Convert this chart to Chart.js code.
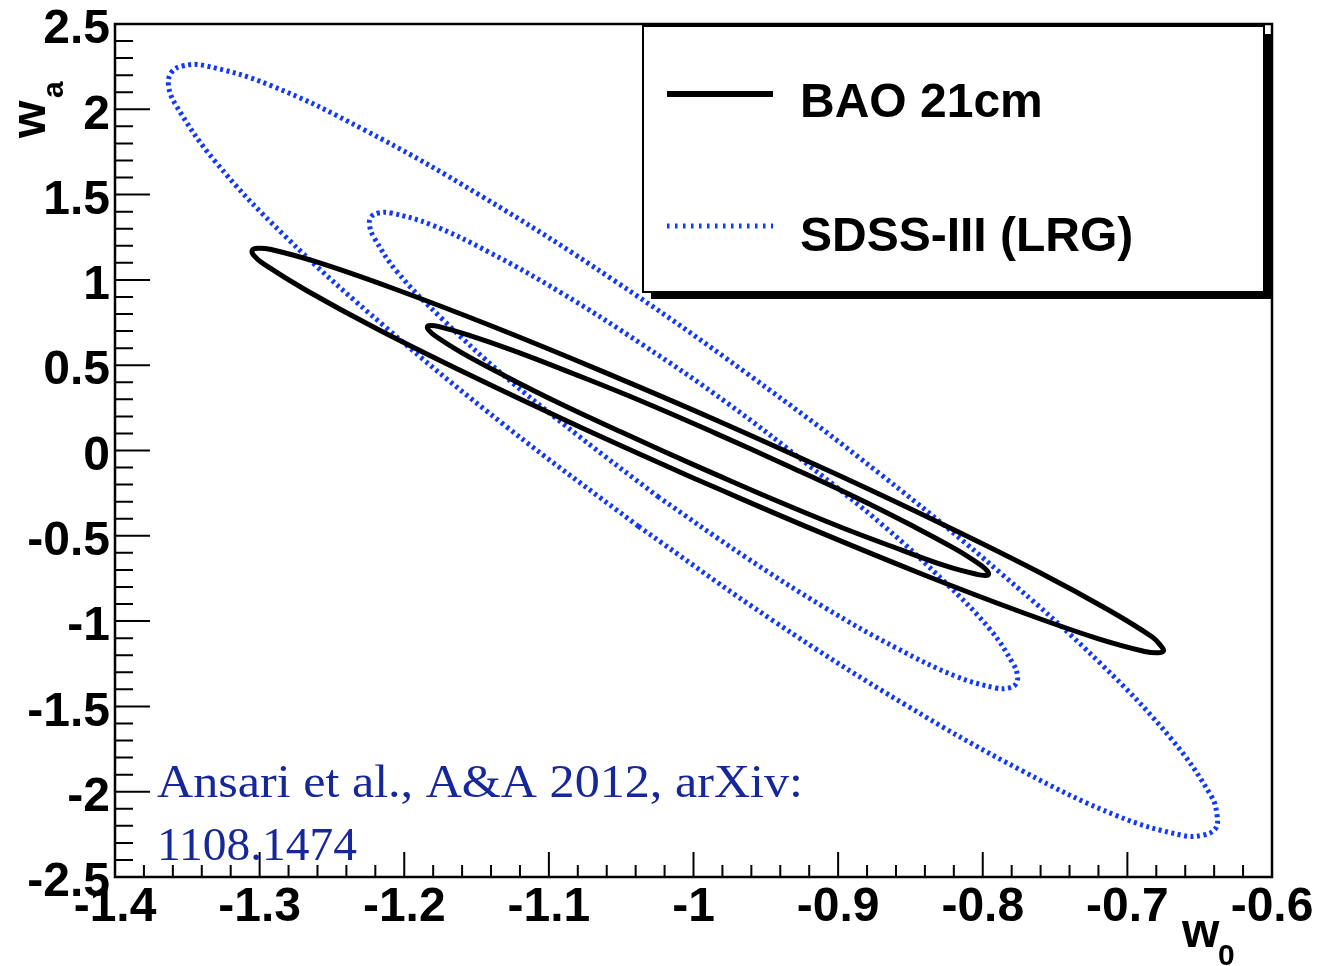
<!DOCTYPE html>
<html>
<head>
<meta charset="utf-8">
<script src="https://cdn.jsdelivr.net/npm/chart.js@4.4.1/dist/chart.umd.min.js"></script>
<style>
  html, body { margin: 0; padding: 0; background: #fff; }
  canvas { display: block; }
</style>
</head>
<body>
<canvas id="chart" width="1342" height="966"></canvas>
<script>
// contours in the (w0, wa) plane
const baoInnerW0 = [-0.995, -1.045, -1.092, -1.131, -1.161, -1.179, -1.183, -1.184, -1.182, -1.176, -1.156, -1.124, -1.083, -1.035, -0.985, -0.935, -0.888, -0.849, -0.819, -0.801, -0.797, -0.796, -0.798, -0.804, -0.825, -0.856, -0.898, -0.945, -0.995];
const baoInnerWa = [-0.102, 0.089, 0.274, 0.440, 0.577, 0.674, 0.705, 0.725, 0.732, 0.726, 0.678, 0.584, 0.450, 0.286, 0.102, -0.089, -0.274, -0.440, -0.577, -0.674, -0.705, -0.725, -0.732, -0.726, -0.678, -0.584, -0.450, -0.286, -0.102];

const baoOuterW0 = [-0.999, -1.080, -1.155, -1.219, -1.267, -1.297, -1.304, -1.305, -1.301, -1.292, -1.259, -1.207, -1.140, -1.063, -0.981, -0.900, -0.825, -0.761, -0.713, -0.683, -0.677, -0.675, -0.679, -0.688, -0.721, -0.773, -0.840, -0.917, -0.999];
const baoOuterWa = [-0.166, 0.144, 0.444, 0.714, 0.935, 1.092, 1.143, 1.175, 1.186, 1.178, 1.101, 0.948, 0.731, 0.464, 0.166, -0.144, -0.444, -0.714, -0.935, -1.092, -1.143, -1.175, -1.186, -1.178, -1.101, -0.948, -0.731, -0.464, -0.166];

const sdssInnerW0 = [-1.024, -1.080, -1.132, -1.174, -1.205, -1.221, -1.224, -1.223, -1.218, -1.209, -1.181, -1.141, -1.091, -1.035, -0.976, -0.920, -0.868, -0.826, -0.795, -0.779, -0.776, -0.777, -0.782, -0.791, -0.819, -0.859, -0.909, -0.965, -1.024];
const sdssInnerWa = [-0.274, 0.089, 0.446, 0.773, 1.048, 1.250, 1.320, 1.368, 1.392, 1.392, 1.322, 1.161, 0.922, 0.619, 0.274, -0.089, -0.446, -0.773, -1.048, -1.250, -1.320, -1.368, -1.392, -1.392, -1.322, -1.161, -0.922, -0.619, -0.274];

const sdssOuterW0 = [-1.038, -1.130, -1.213, -1.282, -1.331, -1.358, -1.363, -1.361, -1.353, -1.338, -1.293, -1.228, -1.147, -1.056, -0.962, -0.870, -0.787, -0.718, -0.669, -0.642, -0.638, -0.639, -0.648, -0.662, -0.707, -0.772, -0.853, -0.944, -1.038];
const sdssOuterWa = [-0.445, 0.144, 0.723, 1.253, 1.697, 2.026, 2.139, 2.216, 2.255, 2.256, 2.142, 1.881, 1.493, 1.003, 0.445, -0.144, -0.723, -1.253, -1.697, -2.026, -2.139, -2.216, -2.255, -2.256, -2.142, -1.881, -1.493, -1.003, -0.445];

const xTickValues = [-1.4, -1.3, -1.2, -1.1, -1, -0.9, -0.8, -0.7, -0.6];
const yTickValues = [-2.5, -2, -1.5, -1, -0.5, 0, 0.5, 1, 1.5, 2, 2.5];

const BLACK = '#000000';
const BLUE = '#1238ff';
const seriesNames = ['BAO 21cm', 'SDSS-III (LRG)'];

function pts(xs, ys) {
  return xs.map((v, i) => ({ x: v, y: ys[i] }));
}

function contour(xs, ys, color, dashed) {
  return {
    data: pts(xs, ys),
    showLine: true,
    borderColor: color,
    borderWidth: dashed ? 5 : 5,
    borderDash: dashed ? [3, 3.5] : [],
    borderJoinStyle: 'round',
    pointRadius: 0,
    tension: 0.4,
    fill: false
  };
}

const frame = {
  id: 'frame',
  afterDraw(chart) {
    const { ctx, chartArea: a, scales: { x, y } } = chart;
    ctx.save();
    ctx.strokeStyle = BLACK;

    // ticks inside the frame, major + 4 minor
    ctx.lineWidth = 2;
    ctx.beginPath();
    for (let i = 0; i <= 40; i++) {
      const px = x.getPixelForValue(-1.4 + i * 0.02);
      const len = i % 5 === 0 ? 25 : 12;
      ctx.moveTo(px, a.bottom);
      ctx.lineTo(px, a.bottom - len);
    }
    for (let i = 0; i <= 50; i++) {
      const py = y.getPixelForValue(-2.5 + i * 0.1);
      const len = i % 5 === 0 ? 35 : 18;
      ctx.moveTo(a.left, py);
      ctx.lineTo(a.left + len, py);
    }
    ctx.stroke();

    ctx.lineWidth = 2.5;
    ctx.strokeRect(a.left, a.top, a.right - a.left, a.bottom - a.top);

    // legend box with shadow
    ctx.fillStyle = BLACK;
    ctx.fillRect(651, 292, 621, 7);
    ctx.fillRect(1264, 34, 8, 265);
    ctx.fillStyle = '#fff';
    ctx.fillRect(643, 26, 621, 266);
    ctx.lineWidth = 2;
    ctx.strokeRect(643, 26, 621, 266);

    ctx.lineWidth = 6;
    ctx.beginPath();
    ctx.moveTo(667, 94);
    ctx.lineTo(773, 94);
    ctx.stroke();

    ctx.strokeStyle = BLUE;
    ctx.lineWidth = 5;
    ctx.setLineDash([2.5, 5.5]);
    ctx.beginPath();
    ctx.moveTo(667, 226);
    ctx.lineTo(773, 226);
    ctx.stroke();
    ctx.setLineDash([]);

    ctx.fillStyle = BLACK;
    ctx.font = 'bold 48px "Liberation Sans", Arial, sans-serif';
    ctx.textAlign = 'left';
    ctx.textBaseline = 'alphabetic';
    ctx.fillText(seriesNames[0], 800, 117);
    ctx.fillText(seriesNames[1], 800, 251);

    // axis titles
    ctx.fillText('w', 1182, 947);
    ctx.font = 'bold 30px "Liberation Sans", Arial, sans-serif';
    ctx.fillText('0', 1218, 965);

    ctx.save();
    ctx.translate(45, 138);
    ctx.rotate(-Math.PI / 2);
    ctx.font = 'bold 48px "Liberation Sans", Arial, sans-serif';
    ctx.fillText('w', 0, 0);
    ctx.font = 'bold 30px "Liberation Sans", Arial, sans-serif';
    ctx.fillText('a', 40, 18);
    ctx.restore();

    // citation
    ctx.fillStyle = '#16279a';
    ctx.font = '47px "Liberation Serif", "Times New Roman", serif';
    const l1 = 'Ansari et al., A&A 2012, arXiv:';
    const l2 = '1108.1474';
    let w = ctx.measureText(l1).width;
    ctx.save();
    ctx.translate(157, 797);
    ctx.scale(646 / w, 1);
    ctx.fillText(l1, 0, 0);
    ctx.restore();
    w = ctx.measureText(l2).width;
    ctx.save();
    ctx.translate(157, 860);
    ctx.scale(200 / w, 1);
    ctx.fillText(l2, 0, 0);
    ctx.restore();

    ctx.restore();
  }
};

const tickFont = { family: '"Liberation Sans", Arial, sans-serif', size: 48, weight: 'bold' };

new Chart(document.getElementById('chart'), {
  type: 'scatter',
  data: {
    datasets: [
      contour(baoInnerW0, baoInnerWa, BLACK, false),
      contour(baoOuterW0, baoOuterWa, BLACK, false),
      contour(sdssInnerW0, sdssInnerWa, BLUE, true),
      contour(sdssOuterW0, sdssOuterWa, BLUE, true)
    ]
  },
  options: {
    responsive: false,
    animation: false,
    layout: { padding: { top: 24, right: 70, left: 0, bottom: 0 } },
    plugins: { legend: { display: false }, tooltip: { enabled: false } },
    scales: {
      x: {
        type: 'linear',
        min: -1.4,
        max: -0.6,
        afterBuildTicks: s => { s.ticks = xTickValues.map(v => ({ value: v })); },
        afterFit: s => { s.height = 89; s.paddingLeft = 0; s.paddingRight = 0; },
        grid: { display: false, drawTicks: false },
        border: { display: false },
        ticks: { color: BLACK, font: tickFont, padding: 2, autoSkip: false, maxRotation: 0, callback: v => String(v) }
      },
      y: {
        type: 'linear',
        min: -2.5,
        max: 2.5,
        afterBuildTicks: s => { s.ticks = yTickValues.map(v => ({ value: v })); },
        afterFit: s => { s.width = 115; s.paddingTop = 0; s.paddingBottom = 0; },
        grid: { display: false, drawTicks: false },
        border: { display: false },
        ticks: { color: BLACK, font: tickFont, padding: 5, autoSkip: false, labelOffset: 6, callback: v => String(v) }
      }
    }
  },
  plugins: [frame]
});
</script>
</body>
</html>
